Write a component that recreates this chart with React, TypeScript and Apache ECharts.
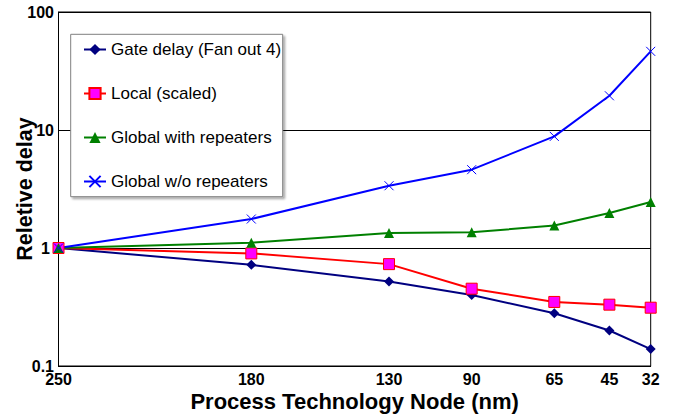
import React, { useEffect, useRef } from "react";
import * as echarts from "echarts";

const nodeLabels = ["250", "180", "130", "90", "65", "45", "32"];
const nodePositions = [0, 14, 24, 30, 36, 40, 43];
const gateDelay = [1, 0.72, 0.52, 0.4, 0.28, 0.2, 0.139];
const localScaled = [1, 0.9, 0.73, 0.452, 0.349, 0.331, 0.312];
const globalWithRep = [1, 1.11, 1.34, 1.36, 1.55, 1.98, 2.45];
const globalWithoutRep = [1, 1.76, 3.37, 4.61, 8.83, 19.5, 46.4];
const yTicks = [0.1, 1, 10, 100];

const FONT = "Liberation Sans";

function pts(vals: number[]) {
  return vals.map((v, i) => [nodePositions[i], v]);
}

export default function App() {
  const ref = useRef<HTMLDivElement>(null);
  useEffect(() => {
    if (!ref.current) return;
    const chart = echarts.init(ref.current, null, { renderer: "svg" });
    const option: any = {
      animation: false,
      backgroundColor: "#fff",
      textStyle: { fontFamily: FONT },
      grid: {
        left: 58.5,
        right: 26.3,
        top: 12,
        bottom: 50,
        show: true,
        borderColor: "#000",
        borderWidth: 1,
        containLabel: false,
        outerBoundsMode: "none",
      },
      xAxis: {
        type: "value",
        min: 0,
        max: nodePositions[nodePositions.length - 1],
        name: "Process Technology Node (nm)",
        nameLocation: "middle",
        nameGap: 24,
        nameMoveOverlap: false,
        nameTextStyle: { fontSize: 22, fontWeight: "bold", color: "#000", fontFamily: FONT },
        axisLine: { show: true, lineStyle: { color: "#000", width: 1 } },
        axisTick: { show: false },
        splitLine: { show: false },
        axisLabel: {
          customValues: nodePositions,
          formatter: (v: number) => {
            const i = nodePositions.indexOf(v);
            return i >= 0 ? nodeLabels[i] : "";
          },
          fontSize: 16,
          fontWeight: "bold",
          color: "#000",
          margin: 5,
          fontFamily: FONT,
        },
      },
      yAxis: {
        type: "log",
        logBase: 10,
        min: yTicks[0],
        max: yTicks[yTicks.length - 1],
        name: "Reletive delay",
        nameLocation: "middle",
        nameGap: 23,
        nameMoveOverlap: false,
        nameTextStyle: { fontSize: 21.5, fontWeight: "bold", color: "#000", fontFamily: FONT },
        axisLine: { show: true, lineStyle: { color: "#000", width: 1 } },
        axisTick: { show: false },
        splitLine: { show: true, lineStyle: { color: "#000", width: 1 } },
        axisLabel: {
          fontSize: 16,
          fontWeight: "bold",
          color: "#000",
          margin: 4.5,
          fontFamily: FONT,
          formatter: (v: number) => (v === 1 ? "{one|1}" : String(v)),
          rich: {
            one: { fontSize: 16, fontWeight: "bold", color: "#000", fontFamily: FONT, padding: [0, 4, 0, 0] },
          },
        },
      },
      legend: {
        orient: "vertical",
        left: 83,
        top: 41,
        padding: 0,
        itemGap: 27,
        itemWidth: 22,
        itemHeight: 14,
        z: 10,
        textStyle: { fontSize: 17, color: "#000", fontFamily: FONT },
        data: [
          "Gate delay (Fan out 4)",
          "Local (scaled)",
          "Global with repeaters",
          "Global w/o repeaters",
        ],
      },
      graphic: [
        {
          type: "rect",
          z: 5,
          shape: { x: 70.7, y: 34.3, width: 212, height: 162.4 },
          style: {
            fill: "#fff",
            stroke: "#808080",
            lineWidth: 1,
            shadowBlur: 2,
            shadowOffsetX: 2,
            shadowOffsetY: 2,
            shadowColor: "rgba(0,0,0,0.35)",
          },
        },
      ],
      series: [
        {
          name: "Gate delay (Fan out 4)",
          type: "line",
          data: pts(gateDelay),
          symbol: "diamond",
          symbolSize: 10,
          lineStyle: { color: "#000080", width: 2 },
          itemStyle: { color: "#000080" },
        },
        {
          name: "Local (scaled)",
          type: "line",
          data: pts(localScaled),
          symbol: "rect",
          symbolSize: 11,
          lineStyle: { color: "#ff0000", width: 2 },
          itemStyle: { color: "#ff00ff", borderColor: "#ff0000", borderWidth: 1 },
        },
        {
          name: "Global with repeaters",
          type: "line",
          data: pts(globalWithRep),
          symbol: "triangle",
          symbolSize: 10,
          lineStyle: { color: "#008000", width: 2 },
          itemStyle: { color: "#008000" },
        },
        {
          name: "Global w/o repeaters",
          type: "line",
          data: pts(globalWithoutRep),
          symbol: "path://M0 0L10 10M10 0L0 10",
          symbolSize: 9,
          lineStyle: { color: "#0000ff", width: 2 },
          itemStyle: { color: "#0000ff", borderColor: "#0000ff", borderWidth: 1 },
        },
      ],
    };
    chart.setOption(option);
    return () => chart.dispose();
  }, []);
  return (
    <div
      ref={ref}
      style={{ position: "absolute", left: 0, top: 0, width: 677, height: 416, background: "#fff" }}
    />
  );
}
